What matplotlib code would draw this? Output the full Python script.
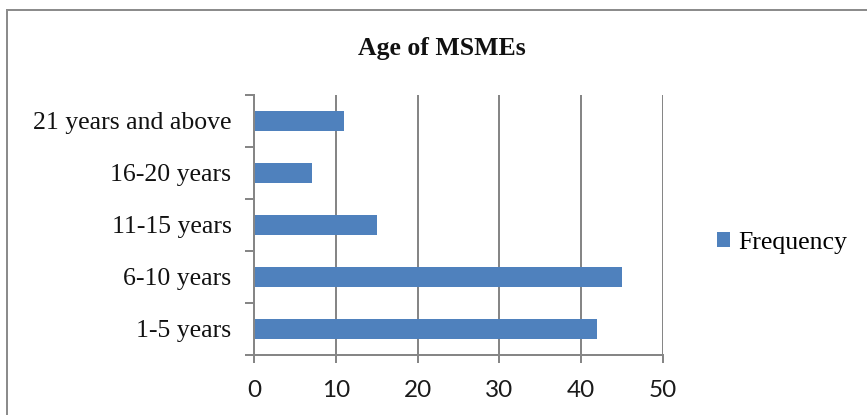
import matplotlib
matplotlib.use("Agg")
import matplotlib.pyplot as plt
from matplotlib.patches import Rectangle, Patch
import numpy as np

# Data
categories = ["1-5 years", "6-10 years", "11-15 years", "16-20 years", "21 years and above"]
frequency = [42, 45, 15, 7, 11]
x_ticks = [0, 10, 20, 30, 40, 50]
title = "Age of MSMEs"
series_name = "Frequency"

W, H, DPI = 867, 415, 100
PX = 72.0 / DPI  # points per pixel

bar_color = "#4F81BD"
axis_gray = "#868686"
serif = "Liberation Serif"

fig = plt.figure(figsize=(W / DPI, H / DPI), dpi=DPI)
fig.patch.set_facecolor("white")

# Chart area frame
fig.add_artist(Rectangle((7 / W, -0.1), 1.2, 1 - 10 / H + 0.1, transform=fig.transFigure,
                         fill=False, edgecolor="#8c8c8c", linewidth=2 * PX))

left, right = 254.5 / W, 662.7 / W
bottom, top = 1 - 355 / H, 1 - 95 / H
ax = fig.add_axes([left, bottom, right - left, top - bottom])

y = np.arange(len(categories))
ax.barh(y, frequency, height=0.4, color=bar_color, zorder=3)

ax.set_xlim(0, 50)
ax.set_ylim(-0.5, len(categories) - 0.5)

# Vertical gridlines
for v in x_ticks[1:]:
    ax.axvline(v, color=axis_gray, linewidth=2 * PX, zorder=1)

for s in ["top", "right"]:
    ax.spines[s].set_visible(False)
for s in ["left", "bottom"]:
    ax.spines[s].set_color(axis_gray)
    ax.spines[s].set_linewidth(2 * PX)
    ax.spines[s].set_zorder(4)

# x axis ticks
ax.set_xticks(x_ticks)
ax.set_xticklabels([str(t) for t in x_ticks], fontfamily="Lato", fontsize=17.5, color="#1a1a1a")
ax.tick_params(axis="x", direction="out", length=8 * PX, width=2 * PX, color=axis_gray, pad=17 * PX)

# y axis: tick marks at category boundaries, labels at centers
ax.set_yticks(np.arange(-0.5, len(categories), 1.0))
ax.set_yticklabels([])
ax.set_yticks(y, minor=True)
ax.set_yticklabels(categories, minor=True, fontfamily=serif, fontsize=18.5, color="#111111")
ax.tick_params(axis="y", which="major", direction="out", length=9 * PX, width=2 * PX, color=axis_gray)
ax.tick_params(axis="y", which="minor", length=0, pad=23 * PX)

# Title
fig.text(442 / W, 1 - 48 / H, title, ha="center", va="center", fontfamily=serif,
         fontweight="bold", fontsize=18.5, color="#111111")

# Legend
handle = Patch(facecolor=bar_color, edgecolor="none")
leg = fig.legend([handle], [series_name], loc="center left", bbox_to_anchor=(717 / W, 1 - 243 / H),
                 frameon=False, prop={"family": serif, "size": 18.5},
                 handlelength=0.52, handleheight=0.52, handletextpad=0.3, borderaxespad=0,
                 borderpad=0)

fig.savefig("out.png", dpi=DPI, facecolor="white")
